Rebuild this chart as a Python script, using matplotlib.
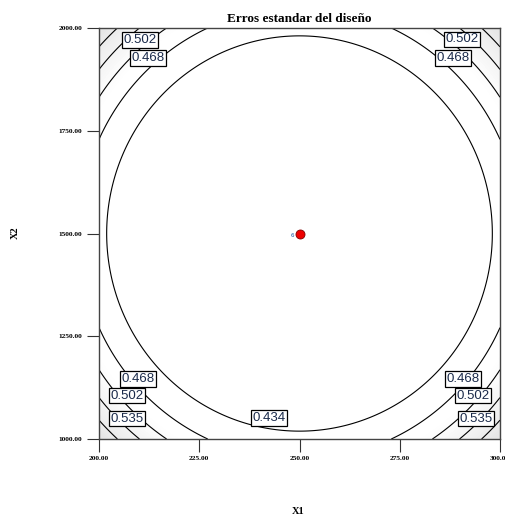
import numpy as np
import matplotlib
matplotlib.use('Agg')
import matplotlib.pyplot as plt
from matplotlib.colors import LinearSegmentedColormap

# Rotatable central composite design, 3 factors in coded units, 6 center points.
alpha = 1.682
x1_runs = [-1, 1, -1, 1, -1, 1, -1, 1, -alpha, alpha, 0, 0, 0, 0, 0, 0, 0, 0, 0, 0]
x2_runs = [-1, -1, 1, 1, -1, -1, 1, 1, 0, 0, -alpha, alpha, 0, 0, 0, 0, 0, 0, 0, 0]
x3_runs = [-1, -1, -1, -1, 1, 1, 1, 1, 0, 0, 0, 0, -alpha, alpha, 0, 0, 0, 0, 0, 0]

# Factor ranges (actual units) for the coded -1 / +1 levels.
x1_range = [200.0, 300.0]
x2_range = [1000.0, 2000.0]

x1_ticks = [200, 225, 250, 275, 300]
x2_ticks = [1000, 1250, 1500, 1750, 2000]

contour_levels = [0.434, 0.468, 0.502, 0.535, 0.569]

# Contour labels: value and where it sits (X1, X2).
label_values = [0.502, 0.468, 0.502, 0.468, 0.468, 0.502, 0.535, 0.468, 0.502, 0.535, 0.434]
label_x1 = [210.2, 212.2, 290.5, 288.3, 209.7, 207.0, 207.0, 290.8, 293.3, 294.0, 242.4]
label_x2 = [1971, 1927, 1973, 1927, 1146, 1105, 1049, 1146, 1105, 1049, 1051]


def model_terms(c1, c2, c3):
	# full quadratic model in three factors
	return np.stack([np.ones_like(c1), c1, c2, c3, c1 * c1, c2 * c2, c3 * c3,
					 c1 * c2, c1 * c3, c2 * c3], axis=-1)


def to_actual(coded, rng):
	return (rng[0] + rng[1]) / 2.0 + coded * (rng[1] - rng[0]) / 2.0


def main():
	runs1 = np.array(x1_runs, dtype=float)
	runs2 = np.array(x2_runs, dtype=float)
	runs3 = np.array(x3_runs, dtype=float)

	X = model_terms(runs1, runs2, runs3)
	xtx_inv = np.linalg.inv(X.T @ X)

	# Standard error of the design over the X1-X2 plane, X3 held at its center.
	g = np.linspace(-1, 1, 401)
	c1, c2 = np.meshgrid(g, g)
	F = model_terms(c1, c2, np.zeros_like(c1))
	se = np.sqrt(np.einsum('...i,ij,...j->...', F, xtx_inv, F))

	a1 = to_actual(c1, x1_range)
	a2 = to_actual(c2, x2_range)

	fig = plt.figure(figsize=(5.06, 5.18), dpi=100)
	ax = fig.add_axes([99 / 506, 79 / 518, 401 / 506, 411 / 518])

	shade = LinearSegmentedColormap.from_list('shade', ['#ffffff', '#e2e2e2'])
	ax.contourf(a1, a2, se, levels=np.linspace(0.49, 0.61, 25), cmap=shade)
	ax.contour(a1, a2, se, levels=contour_levels, colors='black', linewidths=0.8)

	for value, lx, ly in zip(label_values, label_x1, label_x2):
		ax.text(lx, ly, '%.3f' % value, ha='center', va='center', fontsize=9.5,
				family='Liberation Sans', color='#1a2a4a', zorder=5,
				bbox=dict(boxstyle='square,pad=0.12', fc='white', ec='black', lw=0.9))

	# design points lying in this slice
	in_slice = (runs3 == 0) & (np.abs(runs1) <= 1) & (np.abs(runs2) <= 1)
	pts, counts = np.unique(np.stack([runs1[in_slice], runs2[in_slice]], axis=1),
							axis=0, return_counts=True)
	for (p1, p2), n in zip(pts, counts):
		px = to_actual(p1, x1_range)
		py = to_actual(p2, x2_range)
		ax.plot(px, py, 'o', color='#ee0000', mec='#800000', mew=0.6, ms=6.5, zorder=6)
		if n > 1:
			ax.text(px - 1.4, py - 6, str(n), fontsize=4, color='#1050a0',
					ha='right', va='center', zorder=6)

	ax.set_xlim(x1_range)
	ax.set_ylim(x2_range)
	ax.set_xticks(x1_ticks)
	ax.set_yticks(x2_ticks)
	ax.set_xticklabels(['%.2f' % t for t in x1_ticks])
	ax.set_yticklabels(['%.2f' % t for t in x2_ticks])
	ax.tick_params(direction='out', length=9, width=0.8, pad=3, labelsize=5.3, colors='#333333',
				   labelcolor='black')
	for lab in ax.get_xticklabels() + ax.get_yticklabels():
		lab.set_family('Liberation Serif')
		lab.set_fontweight('bold')
	for sp in ax.spines.values():
		sp.set_color('#444444')
		sp.set_linewidth(1.0)

	ax.set_title('Erros estandar del diseño', fontsize=9.5, fontweight='bold',
				 family='Liberation Serif', pad=4)
	fig.text(298 / 506, 1 - 512 / 518, 'X1', ha='center', va='center', fontsize=7.5,
			 fontweight='bold', family='Liberation Serif')
	fig.text(15 / 506, 1 - 233 / 518, 'X2', ha='center', va='center', fontsize=7.5,
			 fontweight='bold', family='Liberation Serif', rotation=90)

	fig.savefig('out.png', dpi=100)


if __name__ == '__main__':
	main()
